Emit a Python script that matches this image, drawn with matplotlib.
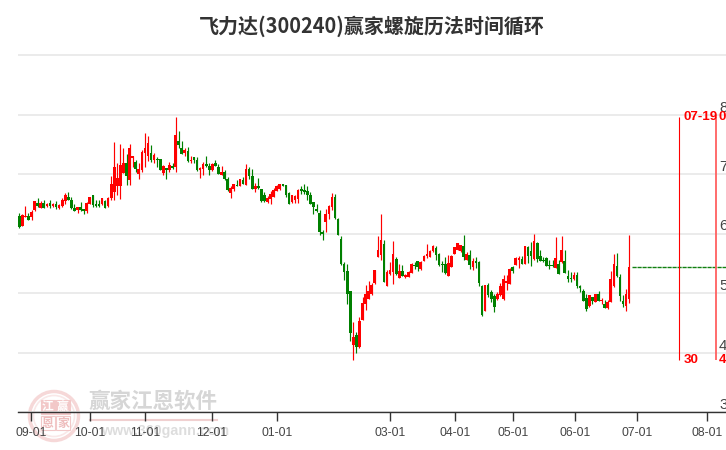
import matplotlib
matplotlib.use("Agg")
import matplotlib.pyplot as plt
from matplotlib.patches import Circle, Rectangle

plt.rcParams['font.family'] = ['Noto Sans CJK SC', 'DejaVu Sans']

title = "飞力达(300240)赢家螺旋历法时间循环"

opens = [6.30,6.13,6.28,6.29,6.28,6.39,6.51,6.43,6.51,6.46,6.52,6.46,6.50,6.43,6.46,6.54,6.62,6.56,6.43,6.40,
 6.44,6.41,6.38,6.50,6.65,6.49,6.49,6.49,6.54,6.47,6.59,6.70,6.80,6.80,7.02,7.18,6.90,7.27,7.20,7.00,
 7.07,7.36,7.31,7.35,7.23,7.26,7.25,7.02,7.10,7.07,7.14,7.12,7.55,7.44,7.35,7.39,7.22,7.29,7.24,7.06,
 7.09,7.17,7.13,7.07,7.18,7.11,6.98,7.04,6.92,6.68,6.75,6.82,6.80,6.90,6.82,7.08,6.97,6.74,6.80,6.75,
 6.65,6.53,6.58,6.62,6.72,6.74,6.83,6.81,6.68,6.53,6.56,6.58,6.75,6.73,6.71,6.65,6.53,6.41,6.34,6.02,
 6.19,6.33,6.45,6.61,6.24,5.91,5.49,5.37,5.03,4.13,4.29,4.09,4.55,4.81,4.90,4.98,5.17,5.60,5.64,5.82,
 5.12,5.32,5.35,5.57,5.25,5.37,5.27,5.27,5.34,5.47,5.54,5.40,5.54,5.62,5.60,5.70,5.76,5.65,5.49,5.49,
 5.29,5.44,5.65,5.73,5.70,5.79,5.56,5.64,5.44,5.54,5.52,5.12,4.70,5.13,5.02,4.95,4.90,4.96,4.90,5.17,
 5.15,5.44,5.47,5.55,5.57,5.49,5.77,5.70,5.57,5.84,5.62,5.55,5.59,5.47,5.47,5.42,5.49,5.52,5.54,5.29,
 5.25,5.24,5.30,5.12,5.03,4.92,4.78,4.93,4.85,4.98,4.86,4.82,4.75,4.85,5.12,5.45,5.27,4.86,4.78,4.90]
closes = [6.11,6.31,6.30,6.23,6.36,6.55,6.47,6.52,6.43,6.50,6.47,6.50,6.45,6.48,6.56,6.65,6.57,6.43,6.38,6.44,
 6.40,6.38,6.51,6.61,6.48,6.46,6.46,6.59,6.43,6.60,6.83,7.12,6.93,7.15,7.18,6.96,7.44,7.30,7.08,7.08,
 7.37,7.44,7.52,7.23,7.32,7.24,7.07,7.13,7.07,7.15,7.10,7.66,7.49,7.34,7.40,7.22,7.24,7.24,7.06,7.10,
 7.17,7.13,7.07,7.17,7.13,7.00,7.04,6.92,6.73,6.76,6.83,6.80,6.91,6.84,7.08,6.97,6.75,6.80,6.76,6.55,
 6.54,6.60,6.66,6.73,6.80,6.83,6.80,6.65,6.50,6.65,6.63,6.73,6.72,6.70,6.65,6.50,6.45,6.37,6.03,5.99,
 6.33,6.46,6.61,6.26,5.98,5.48,5.35,4.99,4.33,4.26,4.09,4.53,4.83,4.98,5.03,5.13,5.39,5.72,5.89,5.18,
 5.35,5.39,5.65,5.32,5.37,5.29,5.30,5.35,5.49,5.45,5.44,5.52,5.62,5.65,5.70,5.79,5.64,5.47,5.47,5.33,
 5.50,5.62,5.77,5.84,5.81,5.60,5.65,5.47,5.54,5.50,5.17,4.63,5.13,4.97,4.90,4.77,4.98,5.12,5.24,5.20,
 5.40,5.37,5.59,5.59,5.49,5.79,5.62,5.62,5.87,5.57,5.54,5.54,5.45,5.45,5.45,5.59,5.32,5.72,5.34,5.24,
 5.24,5.30,5.12,5.08,4.86,4.73,4.97,4.87,4.98,4.86,4.88,4.75,4.85,5.24,5.49,5.29,4.95,4.82,4.98,5.44]
highs = [6.35,6.32,6.46,6.35,6.39,6.55,6.60,6.54,6.56,6.51,6.56,6.51,6.55,6.50,6.60,6.68,6.70,6.61,6.50,6.45,
 6.53,6.42,6.53,6.62,6.65,6.56,6.56,6.60,6.56,6.62,6.97,7.54,7.18,7.50,7.44,7.34,7.50,7.30,7.24,7.18,
 7.40,7.69,7.64,7.49,7.35,7.29,7.25,7.15,7.10,7.20,7.18,7.96,7.72,7.55,7.43,7.45,7.30,7.29,7.29,7.12,
 7.21,7.30,7.18,7.19,7.24,7.16,7.13,7.06,6.95,6.80,6.83,6.90,6.91,6.95,7.17,7.12,7.08,6.85,6.93,6.75,
 6.70,6.63,6.71,6.76,6.81,6.83,6.83,6.81,6.69,6.65,6.65,6.75,6.80,6.83,6.80,6.70,6.53,6.50,6.39,6.06,
 6.41,6.48,6.68,6.66,6.26,5.96,5.52,5.49,5.03,4.51,4.34,4.60,4.93,5.13,5.20,5.17,5.39,5.96,6.33,5.89,
 5.39,5.52,5.87,5.60,5.49,5.47,5.32,5.37,5.50,5.52,5.54,5.54,5.64,5.82,5.72,5.80,5.79,5.67,5.54,5.60,
 5.64,5.64,5.77,5.84,5.81,5.97,5.69,5.72,5.58,5.60,5.54,5.14,5.13,5.17,5.05,4.98,5.02,5.17,5.30,5.30,
 5.42,5.45,5.60,5.62,5.62,5.79,5.79,5.86,5.99,5.86,5.72,5.60,5.60,5.55,5.55,5.94,5.55,5.96,5.72,5.39,
 5.35,5.35,5.35,5.14,5.07,4.98,4.97,4.93,4.99,5.03,4.92,4.88,4.88,5.37,5.66,5.67,5.32,4.97,5.07,5.97]
lows = [6.09,6.13,6.28,6.23,6.23,6.38,6.44,6.43,6.43,6.45,6.43,6.44,6.42,6.41,6.45,6.50,6.56,6.42,6.38,6.35,
 6.38,6.33,6.35,6.49,6.45,6.45,6.45,6.48,6.43,6.45,6.56,6.56,6.65,6.58,7.01,6.81,6.81,7.12,7.04,6.92,
 7.04,7.12,7.22,7.20,7.19,7.12,7.07,6.99,6.92,7.03,7.08,7.04,7.43,7.33,7.30,7.21,7.18,7.18,7.05,6.93,
 6.98,7.12,6.98,7.05,7.13,7.00,6.98,6.90,6.71,6.60,6.72,6.80,6.80,6.83,6.81,6.92,6.75,6.69,6.74,6.53,
 6.53,6.51,6.50,6.61,6.71,6.73,6.79,6.62,6.50,6.51,6.52,6.52,6.66,6.66,6.56,6.50,6.33,6.36,5.98,5.89,
 6.02,6.24,6.39,6.24,5.97,5.47,5.22,4.81,4.19,3.87,3.99,4.07,4.55,4.71,4.90,4.96,5.15,5.60,5.55,5.18,
 5.12,5.30,5.15,5.30,5.25,5.29,5.25,5.27,5.33,5.40,5.37,5.39,5.54,5.59,5.60,5.69,5.55,5.45,5.35,5.32,
 5.29,5.44,5.65,5.72,5.69,5.55,5.55,5.40,5.39,5.42,5.12,4.61,4.70,4.93,4.85,4.68,4.88,4.95,4.88,5.05,
 5.15,5.34,5.47,5.42,5.49,5.49,5.50,5.45,5.55,5.52,5.54,5.52,5.45,5.40,5.44,5.42,5.32,5.50,5.34,5.19,
 5.19,5.22,5.08,5.02,4.86,4.70,4.76,4.81,4.85,4.86,4.82,4.74,4.73,4.85,5.10,5.27,4.86,4.77,4.70,4.83]

tick_positions = [3.9, 23, 41, 62.8, 84, 121, 142.3, 161.2, 181.3, 201.6, 224.4]
tick_labels = ["09-01","10-01","11-01","12-01","01-01","03-01","04-01","05-01","06-01","07-01","08-01"]
price_ticks = [3, 4, 5, 6, 7, 8, 9]
price_labels = ["3", "4", "5", "6", "7", "8", ""]

cycle_lines = [215.3, 227.4]
cycle_top = 7.96
cycle_bottom = 3.87
cycle_top_labels = ["07-19", "0"]
cycle_bottom_labels = ["30", "4"]
label_offsets = [3.0, 1.6]
last_price = 5.43

LATIN = 'Liberation Sans'
W, H = 726, 450
fig = plt.figure(figsize=(W/100, H/100), dpi=100, facecolor='white')
ax = fig.add_axes([18/W, (H-412)/H, (W-18)/W, 412/H])
ax.set_xlim(-0.42, 230.6)
ax.set_ylim(3, 3 + 412/59.5)
ax.set_facecolor('none')

# background layer: watermark, in figure pixels
bg = fig.add_axes([0, 0, 1, 1], zorder=-1)
bg.set_xlim(0, W); bg.set_ylim(H, 0); bg.axis('off')
bg.add_patch(Circle((54, 416), 24.5, fill=False, ec='#f6d8d8', lw=2.5))
bg.add_patch(Circle((54, 416), 20.5, fill=False, ec='#f9e8e8', lw=1.2))
for (x, y, ch, fill) in [(48,407,'江',True),(63,407,'赢',True),(48,423,'恩',False),(63,423,'家',False)]:
    bg.add_patch(Rectangle((x-7, y-7), 14, 14, fc='#f2c8c8' if fill else 'white', ec='#f2c8c8', lw=0.8))
    bg.text(x, y, ch, color='white' if fill else '#eebcbc', fontsize=8.5, ha='center', va='center', fontweight='bold')
bg.text(152.5, 401, "赢家江恩软件", color='#d6d6d6', fontsize=15.5, ha='center', va='center', fontweight='bold')
bg.plot([90, 217], [420, 420], color='#f0d0d0', lw=1.5)
bg.text(165, 431, "www.360gann.com", color='#dddddd', fontsize=10.3, ha='center', va='center',
        family=LATIN, fontweight='bold')

# grid and axes
for s in ('top', 'left', 'right'):
    ax.spines[s].set_visible(False)
ax.spines['bottom'].set_color('#333333')
ax.spines['bottom'].set_linewidth(1.0)
ax.set_yticks(price_ticks)
ax.set_yticklabels(price_labels)
ax.yaxis.tick_right()
ax.tick_params(axis='y', length=0, pad=1, labelsize=10.8, labelcolor='#444444')
for lb in ax.get_yticklabels():
    lb.set_ha('right'); lb.set_va('bottom'); lb.set_fontfamily(LATIN)
ax.grid(axis='y', color='#e6e6e6', lw=1.1, zorder=0)
ax.set_xticks(tick_positions)
ax.set_xticklabels(tick_labels)
ax.tick_params(axis='x', length=6.5, width=1, color='#333333', pad=4.5, labelsize=8.7, labelcolor='#444444')
for lb in ax.get_xticklabels():
    lb.set_fontfamily(LATIN)

# candles
for i, (o, c, h, l) in enumerate(zip(opens, closes, highs, lows)):
    col = '#ff0000' if c >= o else '#008000'
    ax.vlines(i, l, h, color=col, lw=0.85, zorder=3)
    ax.bar(i, abs(c-o), bottom=min(o, c), width=0.86, color=col, lw=0, zorder=4)

# last price and cycle lines
ax.hlines(last_price, len(opens), 230.6, color='#128012', lw=1.0, linestyles=(0, (3, 0.6)), zorder=3)
ax.vlines(cycle_lines[0], cycle_bottom, cycle_top, color='#ff0000', lw=0.8, zorder=3)
ax.vlines(cycle_lines[1], cycle_bottom, cycle_top, color='#ff6060', lw=1.3, zorder=3)
for x, a, b, dx in zip(cycle_lines, cycle_top_labels, cycle_bottom_labels, label_offsets):
    ax.annotate(a, (x, cycle_top), xytext=(dx, 0), textcoords='offset points', color='#ff0000',
                fontsize=9.6, fontweight='bold', va='center', family=LATIN)
    ax.annotate(b, (x, cycle_bottom), xytext=(dx, 0), textcoords='offset points', color='#ff0000',
                fontsize=9.6, fontweight='bold', va='center', family=LATIN)

fig.text(372/W, 1-26/H, title, color='#333333', fontsize=14.4, fontweight='bold', ha='center', va='center')
fig.savefig('out.png', dpi=100, facecolor='white')
